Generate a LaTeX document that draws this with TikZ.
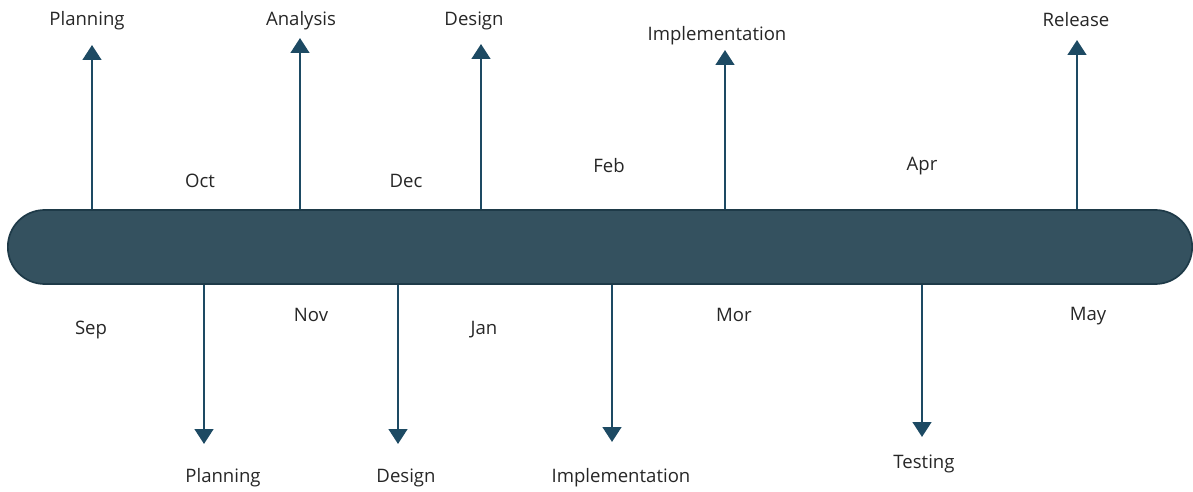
\documentclass[tikz,border=0pt]{standalone}
\usepackage{fontspec}
\setmainfont{Open Sans}
\usetikzlibrary{arrows.meta}
\definecolor{barfill}{HTML}{34515F}
\definecolor{barline}{HTML}{1E3A48}
\definecolor{arrowblue}{HTML}{1D4A63}
\definecolor{labeltext}{HTML}{262626}
\begin{document}
\begin{tikzpicture}[x=0.025cm,y=-0.025cm]
\tikzstyle{every node}=[text=labeltext,font=\fontsize{13.2}{15}\selectfont,inner sep=0pt]
\tikzstyle{stem}=[draw=arrowblue,line width=2pt,-{Triangle[width=13pt,length=10.5pt]}]
\useasboundingbox (0,0) rectangle (1193,492);
\node[draw=barline,fill=barfill,line width=1.2pt,minimum width=29.6cm,minimum height=1.85cm,rounded corners=0.92cm] (bar) at (600,247) {};
% phases above the bar
\foreach \x/\tip/\lx/\ly/\lab [count=\i] in {92/45/87/21/Planning,300/38/301/21/Analysis,481/44/474/21/Design,725/50/717/36/Implementation,1077/40/1076/20/Release}
{\coordinate (ut\i) at (\x,\tip);
 \node (u\i) at (\lx,\ly) {\lab};
 \draw[stem] (bar.north -| ut\i) -- (ut\i);}
% phases below the bar
\foreach \x/\tip/\lx/\ly/\lab [count=\i] in {204/444/223/478/Planning,398/444/406/478/Design,612/442/621/478/Implementation,922/437/924/464/Testing}
{\coordinate (dt\i) at (\x,\tip);
 \node (d\i) at (\lx,\ly) {\lab};
 \draw[stem] (bar.south -| dt\i) -- (dt\i);}
% months
\foreach \lx/\ly/\lab [count=\i] in {91/330/Sep,200/181/Oct,311/315/Nov,406/181/Dec,484/330/Jan,609/166/Feb,734/315/Mor,922/166/Apr,1088/316/May}
 \node (m\i) at (\lx,\ly) {\lab};
\end{tikzpicture}
\end{document}
